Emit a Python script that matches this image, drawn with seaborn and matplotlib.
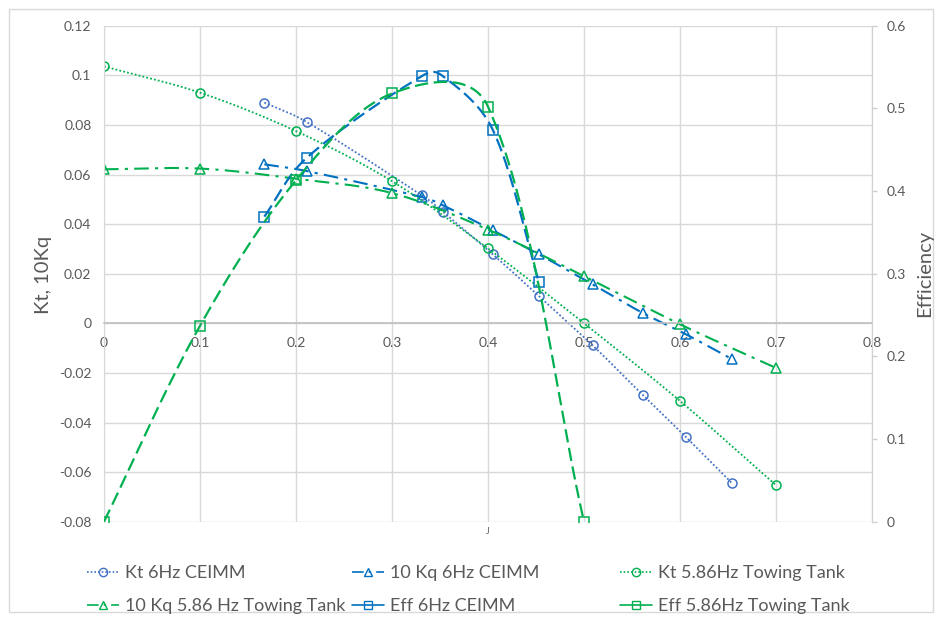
import numpy as np
import matplotlib
matplotlib.use("Agg")
import matplotlib.pyplot as plt
import seaborn as sns
from matplotlib.lines import Line2D
from matplotlib.patches import Rectangle

# ---------------- data ----------------
J_ceimm = [0.167, 0.211, 0.331, 0.353, 0.405, 0.453, 0.509, 0.561, 0.606, 0.654]
kt_ceimm = [0.0890, 0.0812, 0.0516, 0.0450, 0.0278, 0.0110, -0.0089, -0.0288, -0.0458, -0.0644]
kq10_ceimm = [0.0641, 0.0614, 0.0509, 0.0476, 0.0375, 0.0278, 0.0157, 0.0042, -0.0044, -0.0144]
J_eff_ceimm = [0.167, 0.211, 0.331, 0.353, 0.405, 0.453]
eff_ceimm = [0.369, 0.440, 0.539, 0.539, 0.474, 0.290]

J_tank = [0.0, 0.1, 0.2, 0.3, 0.4, 0.5, 0.6, 0.7]
kt_tank = [0.1036, 0.0930, 0.0775, 0.0573, 0.0302, 0.0, -0.0313, -0.0653]
kq10_tank = [0.0621, 0.0624, 0.0583, 0.0525, 0.0378, 0.0190, -0.0004, -0.0180]
J_eff_tank = [0.0, 0.1, 0.2, 0.3, 0.4, 0.5]
eff_tank = [0.0, 0.237, 0.413, 0.518, 0.502, 0.0]

x_ticks = [0, 0.1, 0.2, 0.3, 0.4, 0.5, 0.6, 0.7, 0.8]
x_labels = ["0", "0.1", "0.2", "0.3", "0.4", "0.5", "0.6", "0.7", "0.8"]
yl_ticks = [-0.08, -0.06, -0.04, -0.02, 0, 0.02, 0.04, 0.06, 0.08, 0.1, 0.12]
yl_labels = ["-0.08", "-0.06", "-0.04", "-0.02", "0", "0.02", "0.04", "0.06", "0.08", "0.1", "0.12"]
yr_ticks = [0, 0.1, 0.2, 0.3, 0.4, 0.5, 0.6]
yr_labels = ["0", "0.1", "0.2", "0.3", "0.4", "0.5", "0.6"]

labels = ["Kt 6Hz CEIMM", "10 Kq 6Hz CEIMM", "Kt 5.86Hz Towing Tank",
          "10 Kq 5.86 Hz Towing Tank", "Eff 6Hz CEIMM", "Eff 5.86Hz Towing Tank"]

# ---------------- style ----------------
sns.set_style("white")
plt.rcParams["font.family"] = ["Lato", "DejaVu Sans"]
TXT = "#595959"
GRID = "#d9d9d9"
C_KT6 = "#4472C4"
C_B = "#0070C0"
C_G = "#00B050"


def smooth(x, y, sx, sy, n=40):
    """Excel-like smoothed line through the points (bezier segments)."""
    P = np.column_stack([np.asarray(x, float), np.asarray(y, float)])
    Q = P * np.array([sx, sy])
    m = len(P)
    out = [P[0]]
    for i in range(m - 1):
        i0 = max(i - 1, 0)
        i3 = min(i + 2, m - 1)
        p0, p1, p2, p3 = P[i0], P[i], P[i + 1], P[i3]
        d01 = np.linalg.norm(Q[i] - Q[i0])
        d12 = np.linalg.norm(Q[i + 1] - Q[i])
        d23 = np.linalg.norm(Q[i3] - Q[i + 1])
        r1 = d12 / (d01 + d12) if d01 + d12 > 0 else 0.5
        r2 = d12 / (d12 + d23) if d12 + d23 > 0 else 0.5
        f1 = (0.25 * 0.5 + 0.75 * r1) / 3
        f2 = (0.25 * 0.5 + 0.75 * r2) / 3
        c1 = p1 + (p2 - p0) * f1
        c2 = p2 - (p3 - p1) * f2
        t = np.linspace(0, 1, n)[1:, None]
        seg = (1 - t) ** 3 * p1 + 3 * (1 - t) ** 2 * t * c1 + 3 * (1 - t) * t ** 2 * c2 + t ** 3 * p2
        out.extend(seg)
    return np.array(out)


fig = plt.figure(figsize=(9.42, 6.21), dpi=100)
fig.patches.append(Rectangle((9 / 942, 1 - 612 / 621), 924 / 942, 603 / 621,
                             transform=fig.transFigure, fill=False,
                             edgecolor=GRID, linewidth=1.0))

ax = fig.add_axes([104 / 942, 1 - 521.7 / 621, 768 / 942, 496 / 621])
ax2 = ax.twinx()

SXL, SYL = 960, 2480      # px per data unit (x, left axis)
SYR = 826.7               # px per data unit (right axis)

DOT = (0, (1.0, 1.2))
DASHDOT = (0, (7, 3, 1.5, 3))
LDASH = (0, (6, 2.5))

series = [
    (ax, J_ceimm, kt_ceimm, C_KT6, DOT, 1.3, "o", SYL),
    (ax, J_ceimm, kq10_ceimm, C_B, DASHDOT, 1.5, "^", SYL),
    (ax, J_tank, kt_tank, C_G, DOT, 1.3, "o", SYL),
    (ax, J_tank, kq10_tank, C_G, DASHDOT, 1.5, "^", SYL),
    (ax2, J_eff_ceimm, eff_ceimm, C_B, LDASH, 1.6, "s", SYR),
    (ax2, J_eff_tank, eff_tank, C_G, LDASH, 1.6, "s", SYR),
]

for a, xs, ys, c, ls, lw, mk, sy in series:
    curve = smooth(xs, ys, SXL, sy)
    sns.lineplot(x=curve[:, 0], y=curve[:, 1], ax=a, sort=False, estimator=None,
                 color=c, linestyle=ls, linewidth=lw, legend=False)
    a.plot(xs, ys, linestyle="none", marker=mk, markersize=6.5,
           markerfacecolor="none", markeredgecolor=c, markeredgewidth=1.1)

# ---------------- axes ----------------
ax.set_xlim(0, 0.8)
ax.set_ylim(-0.08, 0.12)
ax2.set_ylim(0, 0.6)

ax.set_xticks(x_ticks)
ax.set_xticklabels(x_labels)
ax.set_yticks(yl_ticks)
ax.set_yticklabels(yl_labels)
ax2.set_yticks(yr_ticks)
ax2.set_yticklabels(yr_labels)

ax.grid(True, color=GRID, linewidth=1.0)
ax.set_axisbelow(True)
ax2.grid(False)

for s in ["top", "right"]:
    ax.spines[s].set_visible(False)
ax.spines["left"].set_color(GRID)
ax.spines["bottom"].set_position(("data", 0))
ax.spines["bottom"].set_color("#bfbfbf")
ax.spines["bottom"].set_linewidth(1.2)
for s in ["top", "left", "bottom"]:
    ax2.spines[s].set_visible(False)
ax2.spines["right"].set_color("#d0d0d0")

ax.tick_params(axis="x", length=0, pad=10, labelsize=10, labelcolor=TXT)
ax.tick_params(axis="y", length=0, pad=9, labelsize=10, labelcolor=TXT)
ax2.tick_params(axis="y", length=3.5, width=1, color="#d0d0d0", pad=7,
                labelsize=10, labelcolor=TXT, direction="out")
ax.set_xlabel("")
ax.set_ylabel("")
ax2.set_ylabel("")

fig.text(43 / 942, 1 - 275 / 621, "Kt, 10Kq", rotation=90, ha="center", va="center",
         fontsize=14.5, color=TXT)
fig.text(925 / 942, 1 - 273 / 621, "Efficiency", rotation=90, ha="center", va="center",
         fontsize=14.5, color=TXT)
fig.text(488 / 942, 1 - 531 / 621, "J", ha="center", va="center", fontsize=6.5, color=TXT)

# ---------------- legend (3 columns, 2 rows, row-major order) ----------------
handles = []
for _, xs, ys, c, ls, lw, mk, sy in series:
    handles.append(Line2D([], [], color=c, linestyle=ls if ls != LDASH else "-",
                          linewidth=1.2, marker=mk, markersize=6,
                          markerfacecolor="none", markeredgecolor=c, markeredgewidth=1.0))

cols = [(87, [0, 3]), (352, [1, 4]), (620, [2, 5])]
for xpx, idx in cols:
    fig.legend([handles[i] for i in idx], [labels[i] for i in idx],
               loc="upper left", bbox_to_anchor=(xpx / 942, 1 - 565 / 621),
               frameon=False, borderpad=0, borderaxespad=0, handlelength=1.75,
               handletextpad=0.33, labelspacing=0.95, fontsize=13,
               labelcolor=TXT)

fig.savefig("out.png", dpi=100)
